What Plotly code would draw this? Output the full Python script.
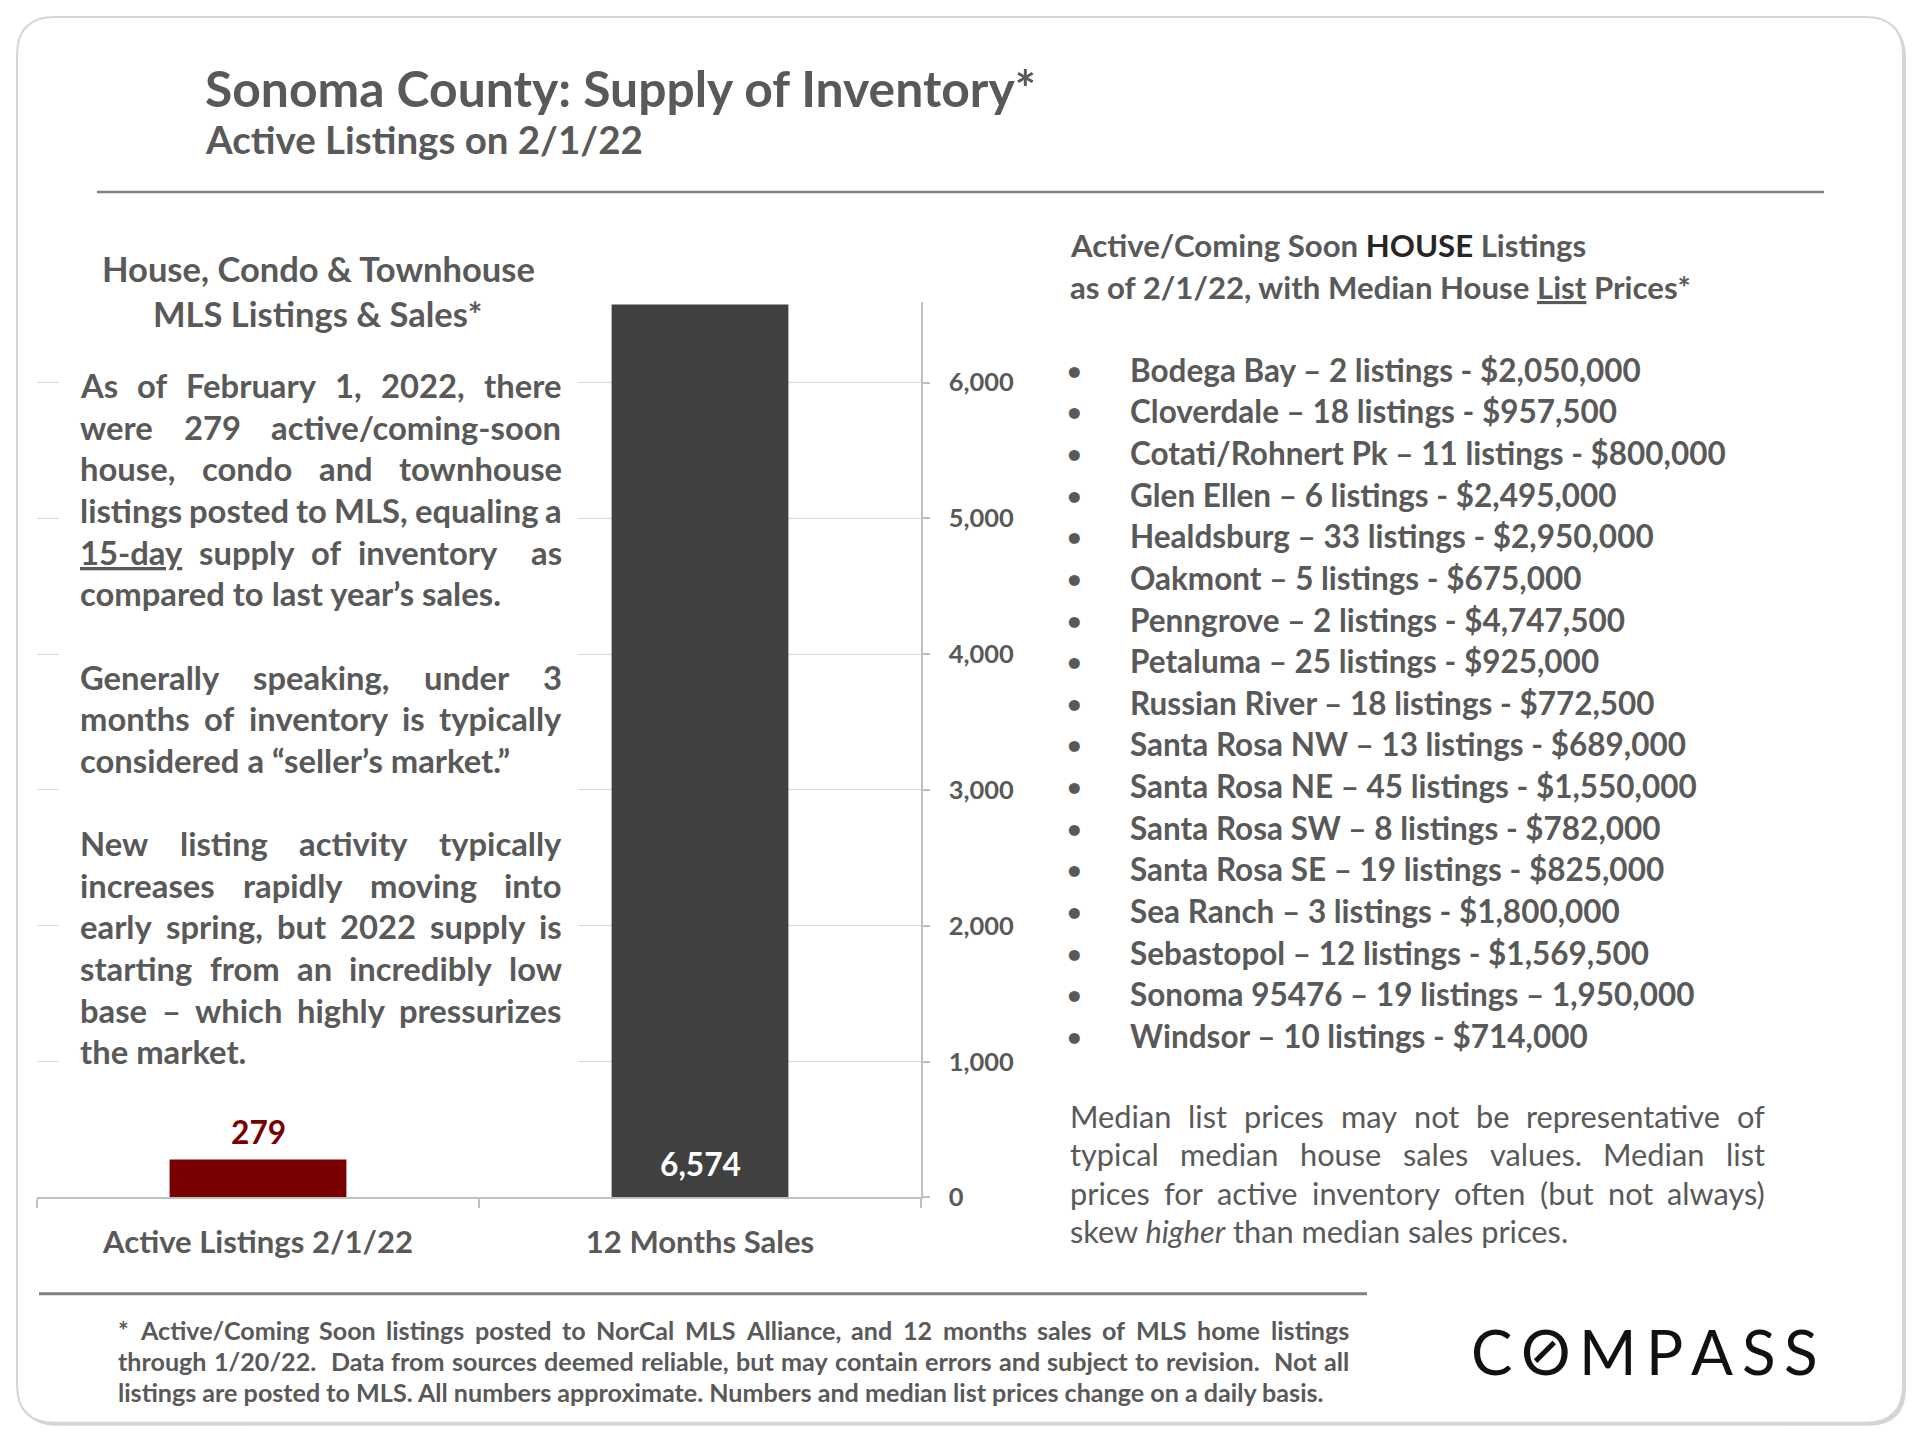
import glob
import os
import re
import plotly.graph_objects as go

W, H = 1920, 1440
SY = 0.9904   # the page capture squeezes the figure vertically by about 1%; compensate

# ---------------- data ----------------
categories = ["Active Listings 2/1/22", "12 Months Sales"]
values = [279, 6574]
value_labels = ["279", "6,574"]
y_tickvals = [0, 1000, 2000, 3000, 4000, 5000, 6000]

areas = ["Bodega Bay", "Cloverdale", "Cotati/Rohnert Pk", "Glen Ellen", "Healdsburg",
         "Oakmont", "Penngrove", "Petaluma", "Russian River", "Santa Rosa NW",
         "Santa Rosa NE", "Santa Rosa SW", "Santa Rosa SE", "Sea Ranch", "Sebastopol",
         "Sonoma 95476", "Windsor"]
area_listings = [2, 18, 11, 6, 33, 5, 2, 25, 18, 13, 45, 8, 19, 3, 12, 19, 10]
area_prices = ["$2,050,000", "$957,500", "$800,000", "$2,495,000", "$2,950,000",
               "$675,000", "$4,747,500", "$925,000", "$772,500", "$689,000",
               "$1,550,000", "$782,000", "$825,000", "$1,800,000", "$1,569,500",
               "1,950,000", "$714,000"]
price_seps = ["-"] * 15 + ["–"] + ["-"]

left_paragraphs = [
    ["As of February 1, 2022, there",
     "were 279 active/coming-soon",
     "house, condo and townhouse",
     "listings posted to MLS, equaling a",
     "<u>15-day</u> supply of inventory  as",
     "compared to last year’s sales."],
    ["Generally speaking, under 3",
     "months of inventory is typically",
     "considered a “seller’s market.”"],
    ["New listing activity typically",
     "increases rapidly moving into",
     "early spring, but 2022 supply is",
     "starting from an incredibly low",
     "base – which highly pressurizes",
     "the market."],
]
right_note = ["Median list prices may not be representative of",
              "typical median house sales values. Median list",
              "prices for active inventory often (but not always)",
              "skew <i>higher</i> than median sales prices."]
footnote = ["* Active/Coming Soon listings posted to NorCal MLS Alliance, and 12 months sales of MLS home listings",
            "through 1/20/22.  Data from sources deemed reliable, but may contain errors and subject to revision.  Not all",
            "listings are posted to MLS. All numbers approximate. Numbers and median list prices change on a daily basis."]

# ---------------- styling helpers ----------------
FONT = "Lato, 'Open Sans', sans-serif"
GRAY = "#595959"
RED = "#780000"
DARK = "#404040"


def _find(pattern):
    for root in ["/usr/share/fonts", "/usr/local/share/fonts", os.path.expanduser("~/.fonts")]:
        fs = glob.glob(os.path.join(root, "**", pattern), recursive=True)
        if fs:
            return fs[0]
    return None


try:
    from PIL import ImageFont
    _fonts = {True: ImageFont.truetype(_find("Lato-Bold.ttf"), 200),
              False: ImageFont.truetype(_find("Lato-Regular.ttf"), 200)}
    HAVE_PIL = True
except Exception:
    HAVE_PIL = False


def _approx(s, bold):
    w = 0.0
    for ch in s:
        if ch == ' ':
            w += 0.2
        elif ch in "il.,:;'’!|j":
            w += 0.25
        elif ch in "ftr":
            w += 0.35
        elif ch in "mw":
            w += 0.8
        elif ch.islower():
            w += 0.53
        elif ch in "MW":
            w += 0.88
        elif ch == 'I':
            w += 0.3
        elif ch.isupper():
            w += 0.66
        elif ch.isdigit() or ch == '$':
            w += 0.58
        elif ch == '–':
            w += 0.55
        elif ch in "“”":
            w += 0.42
        else:
            w += 0.38
    return w * (1.03 if bold else 1.0)


def tw(s, size, bold=True):
    s = re.sub(r"<[^>]+>", "", s)
    if HAVE_PIL:
        return _fonts[bold].getlength(s) * size / 200.0
    return _approx(s, bold) * size


def fit(s, width, bold=True):
    return width / tw(s, 1.0, bold)


def px(x):
    return x / W


def py(y):
    return 1 - (y / SY) / H


anns = []


def text(s, x, y, size, bold=True, color=GRAY, xanchor="left", yanchor="middle", family=FONT):
    anns.append(dict(text=s, x=px(x), y=py(y), xref="paper", yref="paper", showarrow=False,
                     xanchor=xanchor, yanchor=yanchor,
                     font=dict(family=family, size=size, color=color, weight=700 if bold else 400)))


def justified(line, x0, x1, y, size, bold=True, color=GRAY, justify=True):
    if not justify:
        text(line, x0, y, size, bold, color)
        return []
    tokens = line.split(" ")
    widths = [tw(t, size, bold) if t else 0.0 for t in tokens]
    gap = (x1 - x0 - sum(widths)) / max(len(tokens) - 1, 1)
    x = x0
    pos = []
    for t, w in zip(tokens, widths):
        if t:
            text(t, x, y, size, bold, color)
            pos.append((t, x, w))
        x += w + gap
    return pos


# ---------------- shapes ----------------
shapes = []


def rounded(x0, y0, x1, y1, r):
    ry = r
    return (f"M {px(x0 + r)},{py(y0)} L {px(x1 - r)},{py(y0)} Q {px(x1)},{py(y0)} {px(x1)},{py(y0 + ry)} "
            f"L {px(x1)},{py(y1 - ry)} Q {px(x1)},{py(y1)} {px(x1 - r)},{py(y1)} "
            f"L {px(x0 + r)},{py(y1)} Q {px(x0)},{py(y1)} {px(x0)},{py(y1 - ry)} "
            f"L {px(x0)},{py(y0 + ry)} Q {px(x0)},{py(y0)} {px(x0 + r)},{py(y0)} Z")


shapes.append(dict(type="path", path=rounded(19, 20, 1906, 1426, 38), xref="paper", yref="paper",
                   fillcolor="#d4d4d4", line=dict(width=0), layer="below"))
shapes.append(dict(type="path", path=rounded(17, 17, 1903, 1423, 38), xref="paper", yref="paper",
                   fillcolor="white", line=dict(color="#d6d6d6", width=2), layer="below"))
shapes.append(dict(type="line", x0=px(97), x1=px(1824), y0=py(192), y1=py(192), xref="paper", yref="paper",
                   line=dict(color="#808080", width=2.5)))
shapes.append(dict(type="line", x0=px(39), x1=px(1367), y0=py(1294), y1=py(1294), xref="paper", yref="paper",
                   line=dict(color="#808080", width=3)))
# white text box that hides gridlines behind the commentary
shapes.append(dict(type="rect", x0=px(59), x1=px(578), y0=py(345), y1=py(1090), xref="paper", yref="paper",
                   fillcolor="white", line=dict(width=0), layer="above"))

# ---------------- titles ----------------
s_title = fit("Sonoma County: Supply of Inventory*", 831)
text("Sonoma County: Supply of Inventory*", 203, 88, s_title)
s_sub = fit("Active Listings on 2/1/22", 437)
text("Active Listings on 2/1/22", 203, 139, s_sub)

s_lh = fit("House, Condo & Townhouse", 433)
text("House, Condo & Townhouse", 318, 269, s_lh, xanchor="center")
text("MLS Listings & Sales*", 318, 314, s_lh, xanchor="center")

# ---------------- left commentary ----------------
s_lp = fit("compared to last year’s sales.", 421)
LINE = 41.63
idx = 0
for para in left_paragraphs:
    for i, line in enumerate(para):
        justified(line, 78.4, 559.6, 385.7 + idx * LINE, s_lp, True, GRAY, justify=(i < len(para) - 1))
        idx += 1
    idx += 1

# ---------------- right side ----------------
s_rh = fit("Active/Coming Soon HOUSE Listings", 515.5)
text("Active/Coming Soon <span style='color:#262626'>HOUSE</span> Listings", 1068, 245, s_rh)
text("as of 2/1/22, with Median House <u>List</u> Prices*", 1068, 287, s_rh)

s_bl = fit("Cotati/Rohnert Pk – 11 listings - $800,000", 596)
for i, (a, n, sep, p) in enumerate(zip(areas, area_listings, price_seps, area_prices)):
    y = 369.8 + i * LINE
    text("•", 1074, y, s_bl * 0.8, True, GRAY, xanchor="center")
    text(f"{a} – {n} listings {sep} {p}", 1128, y, s_bl)

s_rn = fit("skew higher than median sales prices.", 503, bold=False)
for i, line in enumerate(right_note):
    justified(line, 1068, 1763, 1116.7 + i * 38.4, s_rn, False, GRAY, justify=(i < len(right_note) - 1))

# ---------------- footnote ----------------
s_fn = fit(footnote[2], 1206)
for i, line in enumerate(footnote):
    justified(line, 116.3, 1347, 1330 + i * 31.2, s_fn, True, GRAY, justify=(i < len(footnote) - 1))

# ---------------- COMPASS logo ----------------
s_cp = 62
pos = justified("C O M P A S S", 1469, 1816, 1351, s_cp, False, "#111111")
for t, x, w in pos:
    if t == "O":
        cx, cy = x + 1 + w / 2, 1351 + 1
        shapes.append(dict(type="line", x0=px(cx - 0.15 * s_cp), y0=py(cy + 0.15 * s_cp),
                           x1=px(cx + 0.15 * s_cp), y1=py(cy - 0.15 * s_cp), xref="paper", yref="paper",
                           line=dict(color="#111111", width=5)))
        break

# ---------------- bar chart ----------------
s_cat = fit("Active Listings 2/1/22", 310)
s_tick = fit("6,000", 65)
s_val = fit("6,574", 81)

fig = go.Figure()
fig.add_trace(go.Bar(x=categories, y=values, width=0.4,
                     marker=dict(color=[RED, DARK], line=dict(width=0)),
                     hoverinfo="skip", showlegend=False))

anns.append(dict(x=categories[0], y=values[0], xref="x", yref="y", text=value_labels[0], showarrow=False,
                 yanchor="bottom", yshift=7, font=dict(family=FONT, size=s_val, color=RED, weight=700)))
anns.append(dict(x=categories[1], y=0, xref="x", yref="y", text=value_labels[1], showarrow=False,
                 yanchor="bottom", yshift=12, font=dict(family=FONT, size=s_val, color="white", weight=700)))

fig.update_layout(
    width=W, height=H, margin=dict(l=0, r=0, t=0, b=0),
    paper_bgcolor="white", plot_bgcolor="rgba(0,0,0,0)",
    hovermode=False, showlegend=False, bargap=0.6,
    xaxis=dict(domain=[px(37), px(921)], type="category", range=[-0.5, 1.5],
               showline=True, linecolor="#bfbfbf", linewidth=1.5,
               ticks="outside", tickson="boundaries", ticklen=9, tickcolor="#bfbfbf", tickwidth=1.5,
               showgrid=False, zeroline=False, ticklabelstandoff=17,
               tickfont=dict(family=FONT, size=s_cat, color=GRAY, weight=700)),
    yaxis=dict(domain=[py(1197.6), py(302.4)], range=[0, 6590], side="right",
               tickvals=y_tickvals, tickformat=",", showgrid=True, gridcolor="#d9d9d9", gridwidth=1,
               showline=True, linecolor="#bfbfbf", linewidth=1.5, zeroline=False,
               ticks="outside", ticklen=7, tickcolor="#bfbfbf", tickwidth=1.5, ticklabelstandoff=14,
               tickfont=dict(family=FONT, size=s_tick, color=GRAY, weight=700)),
    shapes=shapes, annotations=anns,
)

fig.write_html("out.html", config={"displayModeBar": False},
               post_script="document.body.style.margin='0';document.body.style.overflow='hidden';")
